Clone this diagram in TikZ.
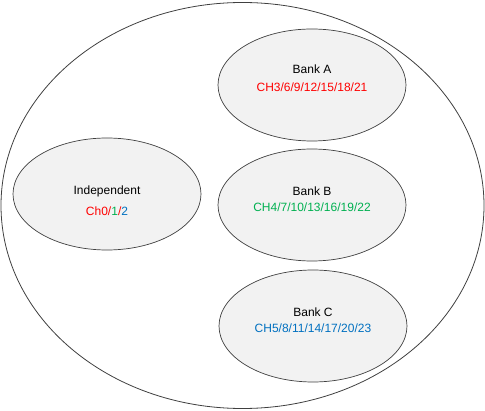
\documentclass[tikz,border=0pt]{standalone}
\usepackage{fontspec}
\setmainfont{Liberation Sans}
\usepackage{xcolor}
\usepackage{tikz}
\usetikzlibrary{shapes.geometric}
\definecolor{chred}{HTML}{FF0000}
\definecolor{chgreen}{HTML}{00B050}
\definecolor{chblue}{HTML}{0070C0}
\definecolor{bankfill}{HTML}{F2F2F2}
\definecolor{edge}{HTML}{404040}

\begin{document}
\begin{tikzpicture}[x=1pt,y=1pt,
 board/.style={draw=edge,ellipse,line width=0.8pt,fill=white,minimum width=483pt,minimum height=406pt,inner sep=0pt},
 bank/.style={draw=edge,ellipse,line width=0.7pt,fill=bankfill,minimum width=188pt,minimum height=112pt,inner sep=0pt},
 title/.style={font=\fontsize{12}{14}\selectfont,text=black,inner sep=0pt},
 chan/.style={font=\fontsize{12}{14}\selectfont,inner sep=0pt}]
\useasboundingbox (0,0) rectangle (485,410);
\node[board] (chip) at (242.5,204.5) {};
\node[bank] (indep) at (107,216) {};
\node[bank] (banka) at (312,325) {};
\node[bank] (bankb) at (312,205) {};
\node[bank] (bankc) at (313,84) {};
% labels
\node[title] (indepname) at (107,219) {Independent};
\node[chan] (indepch) at (107,199) {\textcolor{chred}{Ch0/}\textcolor{chgreen}{1}\textcolor{chred}{/}\textcolor{chblue}{2}};
\node[title] (bankaname) at (312,341) {Bank A};
\node[chan,text=chred] (bankach) at (312,323) {CH3/6/9/12/15/18/21};
\node[title] (bankbname) at (312,219) {Bank B};
\node[chan,text=chgreen] (bankbch) at (312,203) {CH4/7/10/13/16/19/22};
\node[title] (bankcname) at (313,98) {Bank C};
\node[chan,text=chblue] (bankcch) at (313,82) {CH5/8/11/14/17/20/23};
\end{tikzpicture}
\end{document}
